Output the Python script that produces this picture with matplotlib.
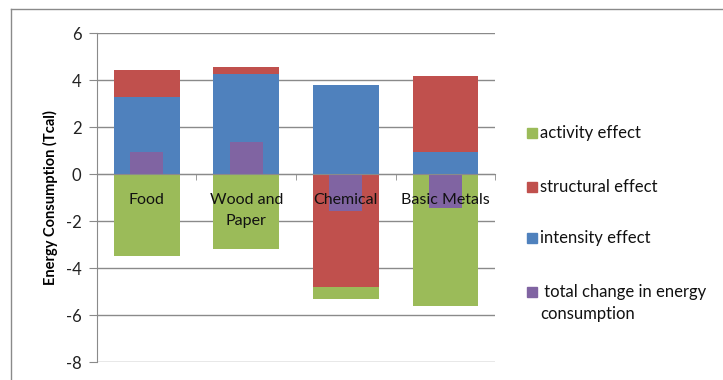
import matplotlib.pyplot as plt
from matplotlib.patches import Rectangle
from matplotlib.lines import Line2D
from matplotlib.ticker import FixedLocator
import numpy as np

# values (Tcal)
categories = ['Food', 'Wood and\nPaper', 'Chemical', 'Basic Metals']
activity = [-3.50, -3.17, -0.53, -5.59]
structural = [1.15, 0.28, -4.80, 3.23]
intensity = [3.30, 4.29, 3.80, 0.95]
total = [0.95, 1.38, -1.56, -1.42]

legend_labels = ['activity effect', 'structural effect', 'intensity effect',
                 ' total change in energy\nconsumption']
colors = ['#9BBB59', '#C0504D', '#4F81BD', '#8064A2']
y_ticks = [-8, -6, -4, -2, 0, 2, 4, 6]

plt.rcParams['font.family'] = ['Lato', 'DejaVu Sans']
plt.rcParams['axes.unicode_minus'] = False
grey = '#8a8a8a'

fig = plt.figure(figsize=(7.23, 3.80), dpi=100)
ax = fig.add_axes([0.134, 0.047, 0.551, 0.865])

x = np.arange(len(categories))
pos_base = np.zeros(len(categories))
neg_base = np.zeros(len(categories))
# stacking order as in the spreadsheet: intensity, structural, activity
for vals, col in [(intensity, colors[2]), (structural, colors[1]), (activity, colors[0])]:
    vals = np.array(vals)
    bottoms = np.where(vals >= 0, pos_base, neg_base)
    ax.bar(x, vals, width=0.66, bottom=bottoms, color=col, zorder=2)
    pos_base = pos_base + np.where(vals >= 0, vals, 0)
    neg_base = neg_base + np.where(vals < 0, vals, 0)

ax.bar(x, total, width=0.33, color=colors[3], zorder=3)

ax.set_xlim(-0.5, len(categories) - 0.5)
ax.set_ylim(-8, 6)
ax.set_yticks(y_ticks)
ax.yaxis.grid(True, color=grey, linewidth=1)
ax.set_axisbelow(True)
# category names sit on top of the bars
ax.xaxis.set_zorder(5)

for side in ['top', 'right']:
    ax.spines[side].set_visible(False)
ax.spines['left'].set_color(grey)
ax.spines['bottom'].set_color(grey)
ax.spines['bottom'].set_position(('data', 0))
ax.spines['bottom'].set_zorder(4)

ax.set_xticks(x)
ax.set_xticklabels(categories, fontsize=11.5, linespacing=1.65)
ax.xaxis.set_minor_locator(FixedLocator(np.arange(len(categories) + 1) - 0.5))
ax.tick_params(axis='x', which='major', length=0, pad=13.5, labelcolor='#111111')
ax.tick_params(axis='x', which='minor', length=4, color=grey, direction='out')
ax.tick_params(axis='y', length=6, color=grey, pad=5, labelsize=12, labelcolor='#222222')

ax.set_ylabel('Energy Consumption (Tcal)', fontsize=10.5, fontweight='bold')
ax.yaxis.set_label_coords(-0.098, 0.5)

# outer chart border (top and left edges visible)
fig.add_artist(Line2D([11 / 723, 1], [1 - 9 / 380, 1 - 9 / 380], color=grey, lw=1))
fig.add_artist(Line2D([11 / 723, 11 / 723], [0, 1 - 9 / 380], color=grey, lw=1))

# legend, drawn like the spreadsheet one
legend_y = [133, 187, 238, 292]
for lab, col, yy in zip(legend_labels, colors, legend_y):
    fy = 1 - yy / 380
    fig.add_artist(Rectangle((527 / 723, fy - 5 / 380), 10 / 723, 10 / 380,
                             transform=fig.transFigure, color=col))
    fig.text(540 / 723, fy + 8 / 380, lab, fontsize=12, va='top', ha='left',
             color='#111111', linespacing=1.5)

fig.savefig('out.png', dpi=100)
